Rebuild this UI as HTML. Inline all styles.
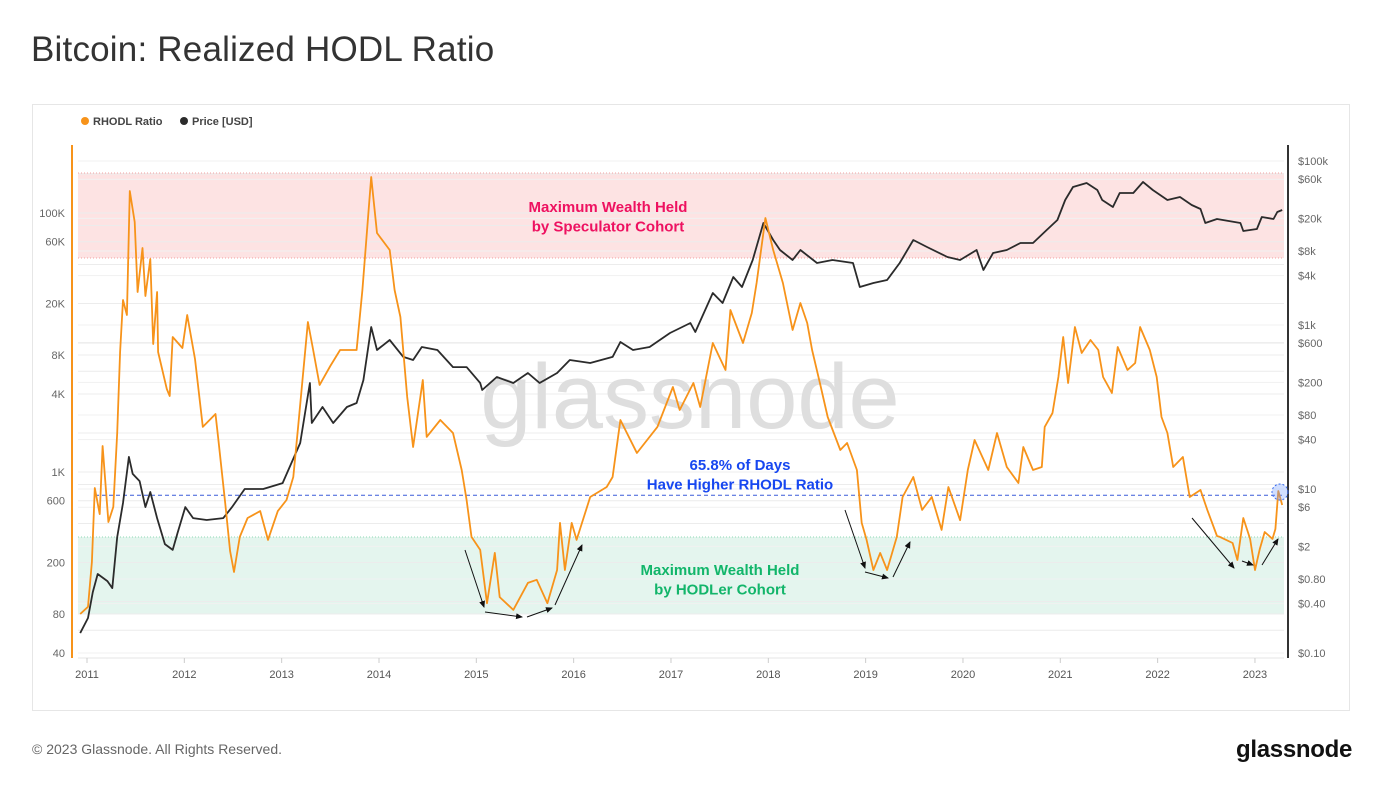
<!DOCTYPE html>
<html><head><meta charset="utf-8">
<style>
body{margin:0;background:#fff;width:1379px;height:794px;overflow:hidden;font-family:"Liberation Sans",sans-serif;position:relative}
#title{position:absolute;left:31px;top:30px;font-size:35px;color:#333;letter-spacing:0.2px}
#card{position:absolute;left:32px;top:104px;width:1318px;height:607px;border:1px solid #e6e6e6;box-sizing:border-box}
#footer{position:absolute;left:32px;top:741px;font-size:14px;color:#666}
#logo{position:absolute;left:1236px;top:736px;font-size:24px;color:#111;font-weight:bold;letter-spacing:-0.3px}
svg{position:absolute;left:0;top:0}
</style></head><body>
<div id="title">Bitcoin: Realized HODL Ratio</div>
<div id="card"></div>
<div id="footer">© 2023 Glassnode. All Rights Reserved.</div>
<div id="logo">glassnode</div>
<svg id="chart" width="1379" height="794"></svg>
<script>
const rhodlDates=[2010.93,2011.01,2011.05,2011.08,2011.13,2011.16,2011.22,2011.27,2011.31,2011.34,2011.37,2011.41,2011.44,2011.49,2011.52,2011.57,2011.60,2011.65,2011.68,2011.72,2011.73,2011.82,2011.85,2011.88,2011.98,2012.03,2012.11,2012.19,2012.32,2012.35,2012.42,2012.47,2012.51,2012.57,2012.65,2012.78,2012.86,2012.96,2013.05,2013.12,2013.17,2013.27,2013.32,2013.39,2013.50,2013.60,2013.77,2013.83,2013.92,2013.98,2014.11,2014.16,2014.22,2014.29,2014.35,2014.45,2014.49,2014.63,2014.76,2014.85,2014.90,2014.95,2015.04,2015.11,2015.19,2015.24,2015.38,2015.53,2015.62,2015.73,2015.83,2015.86,2015.91,2015.98,2016.03,2016.17,2016.34,2016.40,2016.48,2016.65,2016.86,2017.02,2017.09,2017.23,2017.30,2017.43,2017.56,2017.61,2017.74,2017.83,2017.88,2017.97,2018.05,2018.15,2018.25,2018.33,2018.40,2018.45,2018.53,2018.61,2018.74,2018.81,2018.91,2018.96,2019.01,2019.08,2019.15,2019.22,2019.32,2019.38,2019.49,2019.58,2019.68,2019.78,2019.85,2019.97,2020.05,2020.12,2020.26,2020.35,2020.45,2020.57,2020.62,2020.72,2020.81,2020.84,2020.92,2020.98,2021.03,2021.08,2021.15,2021.22,2021.31,2021.39,2021.44,2021.53,2021.59,2021.69,2021.77,2021.82,2021.92,2021.99,2022.04,2022.10,2022.16,2022.26,2022.33,2022.44,2022.51,2022.61,2022.64,2022.77,2022.82,2022.88,2022.95,2023.00,2023.05,2023.10,2023.18,2023.21,2023.24,2023.28];
const rhodlValues=[80,91,202,752,473,1587,411,537,2000,8442,21290,16300,147800,85180,24530,53640,22840,44090,9730,24530,8442,4370,3860,11030,9064,16300,7450,2227,2803,1766,576,245,169,315,441,499,299,499,608,915,2264,14390,9064,4695,6580,8750,8750,25430,189700,70045,51790,25430,15740,3795,1560,5132,1864,2520,2000,1036,608,315,250,97,237,108,86,139,147,97,175,404,175,404,299,641,766,915,2520,1401,2227,4533,3010,4864,3177,9907,6130,17820,9907,16889,28791,91450,51790,28791,12480,20175,14137,8750,4864,2659,1478,1674,1036,404,299,175,237,175,315,641,915,509,641,357,766,424,1036,1766,1036,2000,1093,822,1560,1036,1093,2227,2853,5416,11030,4864,13175,8293,10450,8750,5416,4072,9233,6130,6942,13175,8750,5416,2659,2000,1093,1306,641,726,509,320,315,283,209,441,304,175,254,344,304,363,713,556];
const priceDates=[2010.93,2011.01,2011.06,2011.11,2011.21,2011.26,2011.31,2011.37,2011.43,2011.47,2011.54,2011.60,2011.65,2011.72,2011.80,2011.88,2011.93,2012.01,2012.09,2012.23,2012.40,2012.49,2012.62,2012.81,2013.01,2013.19,2013.29,2013.31,2013.42,2013.53,2013.67,2013.77,2013.84,2013.92,2013.98,2014.11,2014.25,2014.35,2014.44,2014.60,2014.76,2014.90,2015.04,2015.06,2015.21,2015.38,2015.53,2015.65,2015.83,2015.96,2016.17,2016.40,2016.48,2016.61,2016.78,2016.99,2017.20,2017.25,2017.43,2017.53,2017.64,2017.73,2017.84,2017.95,2018.05,2018.12,2018.25,2018.33,2018.50,2018.66,2018.87,2018.94,2019.08,2019.22,2019.35,2019.49,2019.63,2019.84,2019.97,2020.14,2020.21,2020.31,2020.45,2020.59,2020.72,2020.86,2020.97,2021.05,2021.13,2021.27,2021.38,2021.43,2021.54,2021.61,2021.75,2021.85,2021.95,2022.10,2022.23,2022.35,2022.44,2022.49,2022.61,2022.85,2022.88,2023.02,2023.07,2023.19,2023.23,2023.28];
const priceValues=[0.175,0.267,0.553,0.918,0.754,0.619,2.59,6.74,24.6,15.3,12.5,6.02,9.18,4.42,2.13,1.81,2.90,6.02,4.42,4.19,4.42,6.02,9.99,9.99,11.8,36.4,196,63.8,100,63.8,100,112,213,945,496,656,408,374,539,496,307,307,196,161,232,196,260,196,260,374,344,408,620,496,539,799,1058,822,2456,1855,3848,2906,6204,17525,10877,8215,6204,8215,5702,6204,5702,2906,3252,3538,5702,10877,8934,6747,6204,8215,4685,7550,8215,9997,9997,14401,19067,33429,48138,53865,44262,33429,27458,40682,40682,55400,44262,33429,36355,29040,25966,17525,19610,17525,14004,14811,20737,19610,23866,25247];
const xTickLabels=[2011,2012,2013,2014,2015,2016,2017,2018,2019,2020,2021,2022,2023];
const leftTickValues=[40,80,200,600,1000,4000,8000,20000,60000,100000];
const leftTickLabels=["40","80","200","600","1K","4K","8K","20K","60K","100K"];
const rightTickValues=[0.1,0.4,0.8,2,6,10,40,80,200,600,1000,4000,8000,20000,60000,100000];
const rightTickLabels=["$0.10","$0.40","$0.80","$2","$6","$10","$40","$80","$200","$600","$1k","$4k","$8k","$20k","$60k","$100k"];
const thresholdValue=661;

const NS="http://www.w3.org/2000/svg";
const svg=document.getElementById('chart');
const PL=78,PR=1284,PT=145,PB=658;
function xS(y){return 87+(y-2011)*97.33;}
function yL(v){return 653-(Math.log10(v)-Math.log10(40))*129.5;}
function yR(p){return 653-(Math.log10(p)+1)*82;}
function mk(tag,attrs,parent){const e=document.createElementNS(NS,tag);for(const k in attrs)e.setAttribute(k,attrs[k]);(parent||svg).appendChild(e);return e;}

const defs=mk('defs',{});
const mkr=mk('marker',{id:'ah',markerWidth:8,markerHeight:8,refX:6,refY:3,orient:'auto'},defs);
mk('path',{d:'M0,0 L7,3 L0,6 Z',fill:'#111'},mkr);

let b=mk('rect',{x:PL,y:173,width:PR-PL,height:85,fill:'#fde3e3'});


let g=mk('rect',{x:PL,y:537,width:PR-PL,height:77,fill:'#e4f5ee'});


mk('line',{x1:PL,x2:PR,y1:173,y2:173,stroke:'#f4a0a0','stroke-dasharray':'1,2'});
mk('line',{x1:PL,x2:PR,y1:258,y2:258,stroke:'#f4a0a0','stroke-dasharray':'1,2'});
mk('line',{x1:PL,x2:PR,y1:537,y2:537,stroke:'#8fd9b6','stroke-dasharray':'1,2'});
mk('line',{x1:PL,x2:PR,y1:614,y2:614,stroke:'#8fd9b6','stroke-dasharray':'1,2'});

const gridVals=[];
for(let e=1;e<=5;e++){for(const m of [1,2,4,6,8]){const v=m*Math.pow(10,e);if(v>=40&&v<=200000)gridVals.push(v);}}
gridVals.forEach(v=>{const y=yL(v);if(y>PT&&y<PB){const l=mk('line',{x1:PL,x2:PR,y1:y,y2:y,stroke:'#ececec','stroke-width':1});}});
rightTickValues.forEach(v=>{const y=yR(v);mk('line',{x1:PL,x2:PR,y1:y,y2:y,stroke:'#f1f1f1','stroke-width':1});});

let wm=mk('text',{x:690,y:428,'text-anchor':'middle','font-size':92,'font-family':'Liberation Sans, sans-serif',fill:'#dedede'});
wm.textContent='glassnode';



let la=mk('line',{x1:72,x2:72,y1:PT,y2:PB,stroke:'#f7931a','stroke-width':2});


let ra=mk('line',{x1:1288,x2:1288,y1:PT,y2:PB,stroke:'#333','stroke-width':2});


mk('line',{x1:PL,x2:PR,y1:PB,y2:PB,stroke:'#e6e6e6'});
leftTickValues.forEach((v,i)=>{const t=mk('text',{x:65,y:yL(v)+4,'text-anchor':'end','font-size':11,fill:'#666'});t.textContent=leftTickLabels[i];

});
rightTickValues.forEach((v,i)=>{const t=mk('text',{x:1298,y:yR(v)+4,'font-size':11,fill:'#666'});t.textContent=rightTickLabels[i];

});
xTickLabels.forEach(yr=>{const x=xS(yr);mk('line',{x1:x,x2:x,y1:PB,y2:PB+5,stroke:'#ccc'});const t=mk('text',{x:x,y:678,'text-anchor':'middle','font-size':11,fill:'#555'});t.textContent=yr;

});

let th=mk('line',{x1:95,x2:PR,y1:yL(thresholdValue),y2:yL(thresholdValue),stroke:'#3a5bd9','stroke-width':1,'stroke-dasharray':'4,3'});



function path(ds,vs,fy){return ds.map((d,i)=>(i?'L':'M')+xS(d).toFixed(1)+','+fy(vs[i]).toFixed(1)).join(' ');}
let pp=mk('path',{d:path(priceDates,priceValues,yR),fill:'none',stroke:'#2b2b2b','stroke-width':1.8,'stroke-linejoin':'round'});


let rp=mk('path',{d:path(rhodlDates,rhodlValues,yL),fill:'none',stroke:'#f7931a','stroke-width':1.8,'stroke-linejoin':'round'});



let hc=mk('circle',{cx:1280,cy:492,r:8,fill:'rgba(120,160,255,0.35)',stroke:'#3a6df0','stroke-dasharray':'2,2'});



[[465,550,484,607],[485,612,522,617],[527,617,552,608],[555,605,582,545],[845,510,865,568],[865,572,888,578],[893,577,910,542],[1192,518,1234,568],[1242,561,1253,565],[1262,565,1278,539]].forEach(a=>{
const l=mk('line',{x1:a[0],y1:a[1],x2:a[2],y2:a[3],stroke:'#111','stroke-width':1,'marker-end':'url(#ah)'});

});

function ann(lines,x,y,col,name){lines.forEach((s,i)=>{const t=mk('text',{x:x,y:y+i*19.5,'text-anchor':'middle','font-size':15,'font-weight':'bold',fill:col});t.textContent=s;

});}
ann(['Maximum Wealth Held','by Speculator Cohort'],608,212,'#ee1160','speculator-annotation');
ann(['65.8% of Days','Have Higher RHODL Ratio'],740,470,'#1747f0','threshold-annotation');
ann(['Maximum Wealth Held','by HODLer Cohort'],720,575,'#12b56a','hodler-annotation');

let c1=mk('circle',{cx:85,cy:121,r:4,fill:'#f7931a'});


let t1=mk('text',{x:93,y:125,'font-size':11,'font-weight':'bold',fill:'#444'});t1.textContent='RHODL Ratio';


let c2=mk('circle',{cx:184,cy:121,r:4,fill:'#2b2b2b'});


let t2=mk('text',{x:192,y:125,'font-size':11,'font-weight':'bold',fill:'#444'});t2.textContent='Price [USD]';


</script>
</body></html>
